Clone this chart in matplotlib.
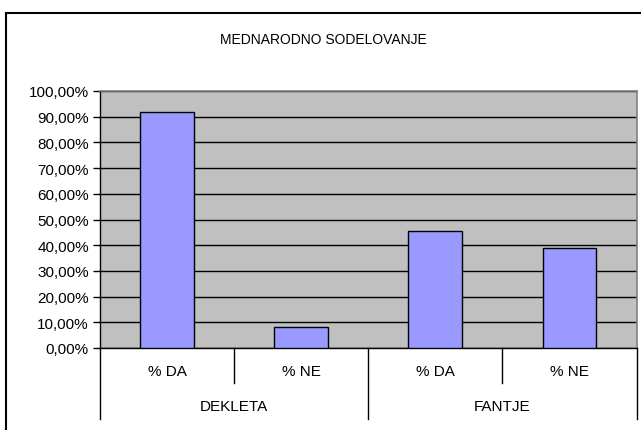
import matplotlib
matplotlib.use("Agg")
import matplotlib.pyplot as plt
from matplotlib.patches import Rectangle
import matplotlib.transforms as mtransforms

plt.rcParams['font.family'] = ['Liberation Sans', 'DejaVu Sans']

title = "MEDNARODNO SODELOVANJE"
groups = ["DEKLETA", "FANTJE"]
sub_labels = ["% DA", "% NE", "% DA", "% NE"]
values = [91.67, 8.33, 45.6, 38.8]
y_ticks = [0, 10, 20, 30, 40, 50, 60, 70, 80, 90, 100]

W, H = 641, 431
fig = plt.figure(figsize=(W / 100, H / 100), dpi=100)

# outer chart frame
fig.patches.append(Rectangle((6 / W, -0.05), 1.0, (H - 14) / H + 0.05, transform=fig.transFigure,
                             fill=False, edgecolor='black', linewidth=1.5, zorder=0))

ax = fig.add_axes([100 / W, (H - 349) / H, 536.5 / W, 257 / H])
ax.set_facecolor('#C0C0C0')

x = [i + 0.5 for i in range(len(values))]
ax.bar(x, values, width=0.4, color='#9999FF', edgecolor='black', linewidth=1.0, zorder=3)

ax.set_xlim(0, len(values))
ax.set_ylim(0, 100)
ax.set_yticks(y_ticks)
ax.set_yticklabels([f"{v:.2f}".replace('.', ',') + "%" for v in y_ticks], fontsize=11)
ax.yaxis.grid(True, color='black', linewidth=1.0, zorder=1)
ax.set_axisbelow(True)
ax.tick_params(axis='y', direction='out', length=5, width=1, color='black', pad=3)
ax.set_xticks([])

for side in ['top', 'right']:
    ax.spines[side].set_color('#808080')
    ax.spines[side].set_linewidth(1.2)
for side in ['left', 'bottom']:
    ax.spines[side].set_color('black')
    ax.spines[side].set_linewidth(1.0)

trans = mtransforms.blended_transform_factory(ax.transData, ax.transAxes)
short_y = -(384 - 349) / 257
long_y = -(420 - 349) / 257
for i in range(len(values) + 1):
    yb = long_y if i % 2 == 0 else short_y
    ax.plot([i, i], [0, yb], transform=trans, color='black', linewidth=1.0, clip_on=False)

for xi, lab in zip(x, sub_labels):
    ax.text(xi, -(372 - 349) / 257, lab, transform=trans, ha='center', va='center', fontsize=11)
for gi, g in enumerate(groups):
    ax.text(gi * 2 + 1, -(407 - 349) / 257, g, transform=trans, ha='center', va='center', fontsize=11)

fig.text(323 / W, (H - 40) / H, title, ha='center', va='center', fontsize=10)

fig.savefig("out.png", dpi=100)
